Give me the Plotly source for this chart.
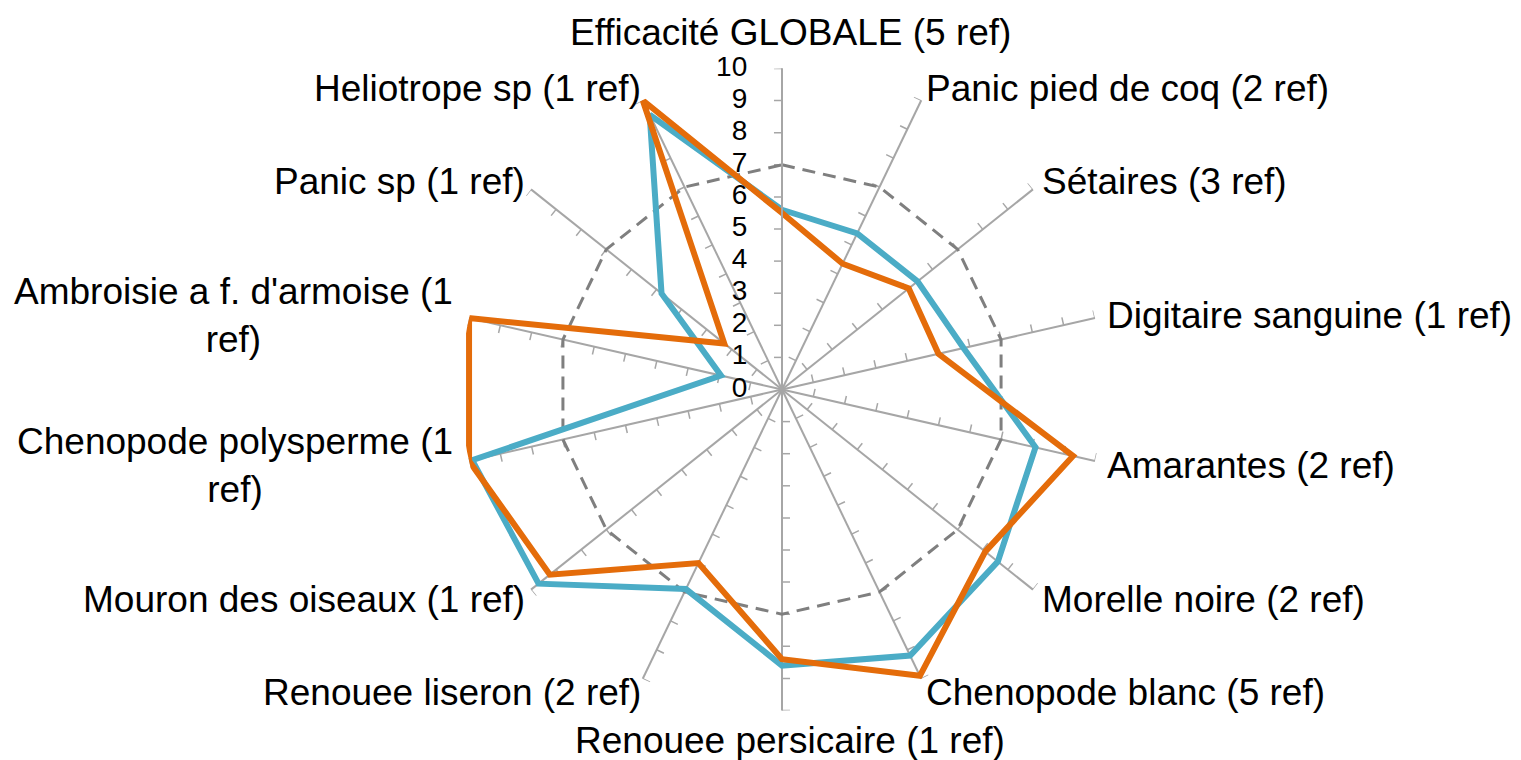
import numpy as np
import plotly.graph_objects as go

# ---------------- data ----------------
categories = [
    "Efficacité GLOBALE (5 ref)",
    "Panic pied de coq (2 ref)",
    "Sétaires (3 ref)",
    "Digitaire sanguine (1 ref)",
    "Amarantes (2 ref)",
    "Morelle noire (2 ref)",
    "Chenopode blanc (5 ref)",
    "Renouee persicaire (1 ref)",
    "Renouee liseron (2 ref)",
    "Mouron des oiseaux (1 ref)",
    "Chenopode polysperme (1 ref)",
    "Ambroisie a f. d'armoise (1 ref)",
    "Panic sp (1 ref)",
    "Heliotrope sp (1 ref)",
]
# label text as displayed (wrapped like the original)
label_text = [
    "Efficacité GLOBALE (5 ref)",
    "Panic pied de coq (2 ref)",
    "Sétaires (3 ref)",
    "Digitaire sanguine (1 ref)",
    "Amarantes (2 ref)",
    "Morelle noire (2 ref)",
    "Chenopode blanc (5 ref)",
    "Renouee persicaire (1 ref)",
    "Renouee liseron (2 ref)",
    "Mouron des oiseaux (1 ref)",
    "Chenopode polysperme (1<br>ref)",
    "Ambroisie a f. d'armoise (1<br>ref)",
    "Panic sp (1 ref)",
    "Heliotrope sp (1 ref)",
]
blue_values = [5.6, 5.4, 5.4, 5.8, 8.1, 8.6, 9.2, 8.6, 6.9, 9.7, 9.9, 1.95, 4.8, 9.5]
orange_values = [5.5, 4.35, 5.05, 5.0, 9.3, 8.1, 9.9, 8.4, 6.0, 9.25, 10.0, 10.0, 2.3, 10.0]
reference_level = 7
radial_ticks = [0, 1, 2, 3, 4, 5, 6, 7, 8, 9, 10]

# ---------------- styling ----------------
FONT = "Liberation Sans, Arial, sans-serif"
BLUE = "#4BACC6"
ORANGE = "#E46C0A"
GRID = "#A6A6A6"

n = len(categories)
angles = [i * 360.0 / n for i in range(n)]
closed = lambda v: list(v) + [v[0]]

fig = go.Figure()

# small one-sided tick marks on every spoke (Excel style)
tick_len = 0.25
tr, tt = [], []
for a in angles:
    for k in radial_ticks[1:]:
        tr += [k, float(np.hypot(k, tick_len)), None]
        tt += [a, a - float(np.degrees(np.arctan(tick_len / k))), None]
fig.add_trace(go.Scatterpolar(
    r=tr, theta=tt, mode="lines", cliponaxis=False,
    line=dict(color=GRID, width=1.5), hoverinfo="skip", showlegend=False))

# dashed reference polygon
fig.add_trace(go.Scatterpolar(
    r=closed([reference_level] * n), theta=closed(angles), mode="lines",
    line=dict(color="#7F7F7F", width=3, dash="13px,8px"),
    hoverinfo="skip", showlegend=False))

fig.add_trace(go.Scatterpolar(
    r=closed(blue_values), theta=closed(angles), mode="lines", cliponaxis=False,
    line=dict(color=BLUE, width=6), showlegend=False))
fig.add_trace(go.Scatterpolar(
    r=closed(orange_values), theta=closed(angles), mode="lines", cliponaxis=False,
    line=dict(color=ORANGE, width=6), showlegend=False))

# radial value labels (0..10) to the left of the vertical axis
fig.add_trace(go.Scatterpolar(
    r=radial_ticks, theta=[angles[0]] * len(radial_ticks),
    mode="markers+text", text=[str(v) for v in radial_ticks],
    textposition="middle left", cliponaxis=False,
    marker=dict(size=54, opacity=0, color="white"),
    textfont=dict(size=28, family=FONT, color="#000000"),
    hoverinfo="skip", showlegend=False))

# the page body has an 8px default margin: size the figure to fit the window
OFF = 8
W, H = 1521 - OFF, 760 - OFF
# polar centre / radius in figure pixels
cx, cy, R = 782 - OFF, 389.5 - OFF, 321

# category labels placed just outside the end of each spoke
annotations = []
for a, txt in zip(angles, label_text):
    s, c = np.sin(np.radians(a)), np.cos(np.radians(a))
    ex, ey = cx + OFF + R * s, cy + OFF - R * c
    if abs(s) < 0.1:
        px = ex
        if c > 0:
            py, ya = ey - 23, "bottom"
        else:
            py, ya = ey, "top"
        xa = "center"
    else:
        if s > 0:
            px, xa = ex + 12 * s - 9, "left"
        else:
            px, xa = ex + 12 * s - 4, "right"
            if "<br>" in txt:
                px -= 7
        py = ey - 14 * c - 7
        ya = "middle"
    annotations.append(dict(
        x=px / W, y=1 - py / H, xref="paper", yref="paper",
        text=txt, showarrow=False, xanchor=xa, yanchor=ya, align="center",
        font=dict(size=37, family=FONT, color="#000000"), borderpad=0))

fig.update_layout(
    width=W, height=H,
    margin=dict(l=0, r=0, t=0, b=0),
    paper_bgcolor="white",
    showlegend=False,
    font=dict(family=FONT, color="#000000"),
    annotations=annotations,
    polar=dict(
        domain=dict(x=[(cx - R) / W, (cx + R) / W],
                    y=[(H - cy - R) / H, (H - cy + R) / H]),
        bgcolor="white",
        angularaxis=dict(
            type="linear", thetaunit="degrees",
            direction="clockwise", rotation=90,
            tickmode="array", tickvals=angles, ticktext=categories,
            showticklabels=False,
            showline=False, showgrid=True, gridcolor=GRID, gridwidth=1.5,
            ticks="",
        ),
        radialaxis=dict(
            range=[0, 10], angle=90,
            tickmode="array", tickvals=radial_ticks, showticklabels=False,
            showgrid=False, showline=True, linecolor=GRID, linewidth=2,
            ticks="",
        ),
    ),
)

fig.write_html("out.html")
